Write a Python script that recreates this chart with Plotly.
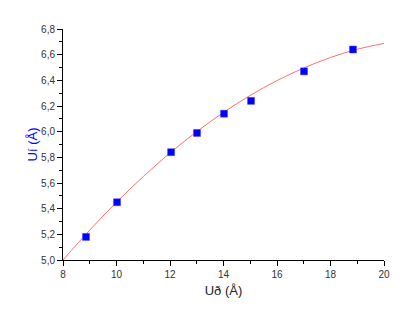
import plotly.graph_objects as go

# measured points
ud_values = [8.86, 10.02, 12.04, 13.01, 14.02, 15.03, 17.01, 18.84]
ui_values = [5.18, 5.45, 5.84, 5.99, 6.14, 6.24, 6.47, 6.64]

# fitted curve
fit_x = [8, 9, 10, 11, 12, 13, 14, 15, 16, 17, 18, 19, 20]
fit_y = [5.00, 5.233, 5.450, 5.650, 5.834, 6.000, 6.150, 6.283, 6.398, 6.496, 6.578, 6.642, 6.688]

x_ticks = [8, 10, 12, 14, 16, 18, 20]
y_ticks = [5.0, 5.2, 5.4, 5.6, 5.8, 6.0, 6.2, 6.4, 6.6, 6.8]

fig = go.Figure()
fig.add_trace(go.Scatter(x=fit_x, y=fit_y, mode="lines", line=dict(color="#ff7070", width=1, shape="spline"),
                         showlegend=False, hoverinfo="skip"))
fig.add_trace(go.Scatter(x=ud_values, y=ui_values, mode="markers",
                         marker=dict(symbol="square", size=7, color="#0000ff",
                                     line=dict(color="#4040ff", width=0.5)),
                         showlegend=False))

fig.update_layout(
    width=413, height=322,
    margin=dict(l=63, r=29, t=29, b=62),
    plot_bgcolor="white", paper_bgcolor="white",
    separators=",.",
    font=dict(family="Liberation Sans, Arial, sans-serif", size=10, color="#333"),
    xaxis=dict(range=[8, 20], tickvals=x_ticks, ticks="outside", ticklen=5, tickwidth=1,
               tickcolor="#000", showline=True, linecolor="#000", linewidth=1,
               showgrid=False, zeroline=False,
               minor=dict(dtick=1, ticks="outside", ticklen=3, tickcolor="#000"),
               title=dict(text="Uð (Å)", font=dict(size=13, color="#222"), standoff=6)),
    yaxis=dict(range=[5.0, 6.8], tickvals=y_ticks, tickformat=".1f", ticks="outside", ticklen=5,
               tickwidth=1, tickcolor="#000", showline=True, linecolor="#000", linewidth=1,
               showgrid=False, zeroline=False,
               minor=dict(dtick=0.1, ticks="outside", ticklen=3, tickcolor="#000"),
               title=dict(text="Uí (Å)", font=dict(size=13, color="#0000ff"), standoff=0)),
)

fig.write_html("out.html")
